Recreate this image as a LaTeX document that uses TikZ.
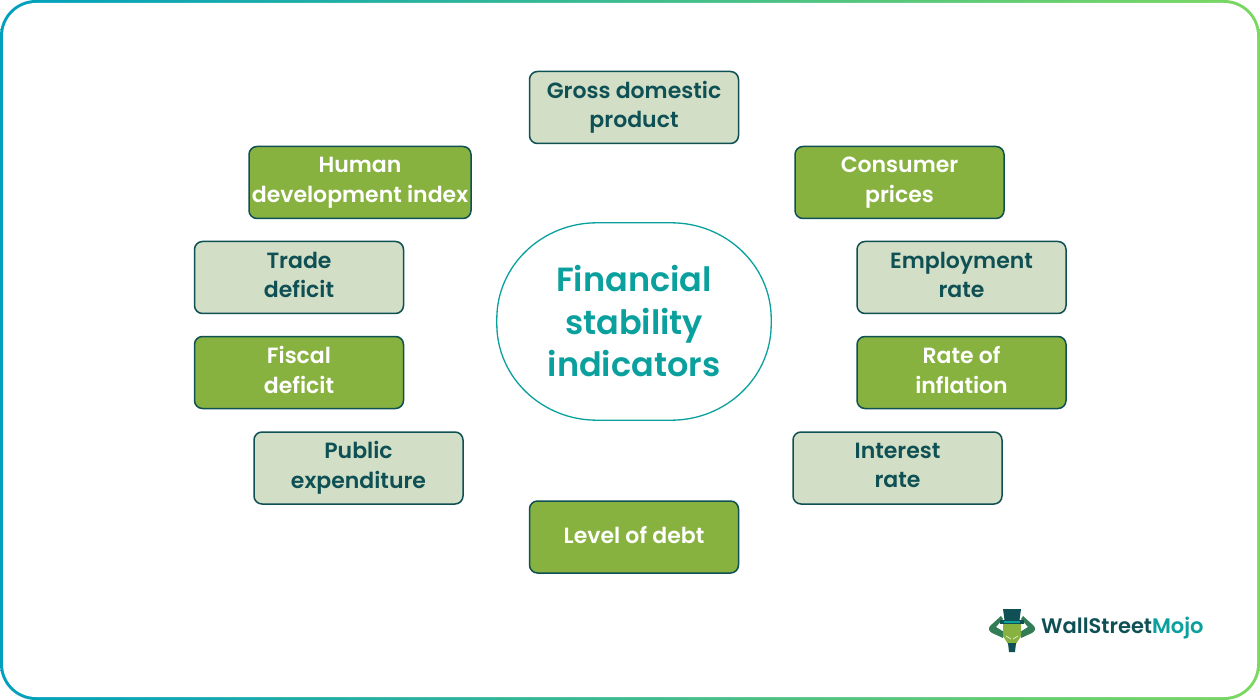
\documentclass[tikz,border=0pt]{standalone}
\usepackage{fontspec}
\setmainfont{Poppins}[UprightFont=* Medium,BoldFont=* SemiBold]
\definecolor{dk}{RGB}{14,80,84}
\definecolor{grn}{RGB}{136,178,64}
\definecolor{pale}{RGB}{210,222,198}
\definecolor{teal}{RGB}{10,160,158}
\definecolor{frameL}{RGB}{0,160,190}
\definecolor{frameR}{RGB}{122,216,96}
\definecolor{arm}{RGB}{50,125,85}
\newcommand{\ystrut}{\rule[-5pt]{0pt}{16.5pt}}
\tikzset{
 x=1pt,y=-1pt,
 box/.style={draw=dk,line width=1.5pt,rounded corners=8pt,minimum width=#1,minimum height=72pt,inner sep=0pt,align=center,font=\fontsize{22}{29.5}\selectfont\bfseries,anchor=center,execute at begin node=\ystrut,execute at end node=\ystrut},
 box/.default=209pt,
 palebox/.style={box=#1,fill=pale,text=dk},
 palebox/.default=209pt,
 greenbox/.style={box=#1,fill=grn,text=white},
 greenbox/.default=209pt,
}
\begin{document}
\begin{tikzpicture}
\useasboundingbox (0,0) rectangle (1260,700);
\fill[white] (0,0) rectangle (1260,700);
\shade[left color=frameL,right color=frameR,rounded corners=36pt] (0,0) rectangle (1260,700);
\fill[white,rounded corners=33pt] (3,3) rectangle (1257,697);
\node[palebox] (gdp) at (634,107.5) {Gross domestic\\product};
\node[greenbox=222pt] (hdi) at (360,182.5) {Human\\development index};
\node[greenbox] (cp) at (899.5,182.5) {Consumer\\prices};
\node[palebox] (td) at (299,277.5) {Trade\\deficit};
\node[palebox] (er) at (961.5,277.5) {Employment\\rate};
\node[greenbox] (fd) at (299,372.5) {Fiscal\\deficit};
\node[greenbox] (ri) at (961.5,372.5) {Rate of\\inflation};
\node[palebox] (pe) at (358.5,468) {Public\\expenditure};
\node[palebox] (ir) at (897.5,468) {Interest\\rate};
\node[greenbox] (ld) at (634,537) {Level of debt};
\node[minimum width=274pt,minimum height=197pt,inner sep=0pt,align=center,text=teal,font=\fontsize{33.5}{42.5}\selectfont\bfseries] (fsi) at (634,321.5) {Financial\\stability\\indicators};
\draw[teal,line width=1.3pt] ([xshift=100pt]fsi.north west) -- ([xshift=-100pt]fsi.north east)
 .. controls ([xshift=-45pt]fsi.north east) and ([yshift=-43pt]fsi.north east) .. ([yshift=-96pt]fsi.north east)
 -- ([yshift=96pt]fsi.south east)
 .. controls ([yshift=43pt]fsi.south east) and ([xshift=-45pt]fsi.south east) .. ([xshift=-100pt]fsi.south east)
 -- ([xshift=100pt]fsi.south west)
 .. controls ([xshift=45pt]fsi.south west) and ([yshift=43pt]fsi.south west) .. ([yshift=96pt]fsi.south west)
 -- ([yshift=-96pt]fsi.north west)
 .. controls ([yshift=-43pt]fsi.north west) and ([xshift=45pt]fsi.north west) .. ([xshift=100pt]fsi.north west) -- cycle;
% logo
\fill[arm] (1001,616) -- (990,626) .. controls (988,629) and (989,631) .. (992,633) -- (1003,638) -- (1004,632) -- (996,627) -- (1003,619) -- cycle;
\fill[arm] (1023,616) -- (1034,626) .. controls (1036,629) and (1035,631) .. (1032,633) -- (1021,638) -- (1020,632) -- (1028,627) -- (1021,619) -- cycle;
\fill[grn] (1003,624) -- (1021,624) -- (1021,636) -- (1016,644) -- (1008,644) -- (1003,636) -- cycle;
\draw[white!70!grn,line width=0.8pt] (1006,636) -- (1011,639) (1018,636) -- (1013,639);
\fill[dk] (1008,643) -- (1016,643) -- (1015,652) -- (1009,652) -- cycle;
\fill[dk] (1003,609) -- (1021,609) -- (1019.5,620) -- (1004.5,620) -- cycle;
\fill[dk] (1000,620) rectangle (1024,624);
\fill[teal] (1004,620.5) rectangle (1020,622.5);
\node[anchor=west,inner sep=0pt,font=\fontsize{21}{24}\selectfont\bfseries,text=dk] (wsm) at (1041,628.5) {WallStreet\textcolor{teal}{Mojo}};
\end{tikzpicture}
\end{document}
